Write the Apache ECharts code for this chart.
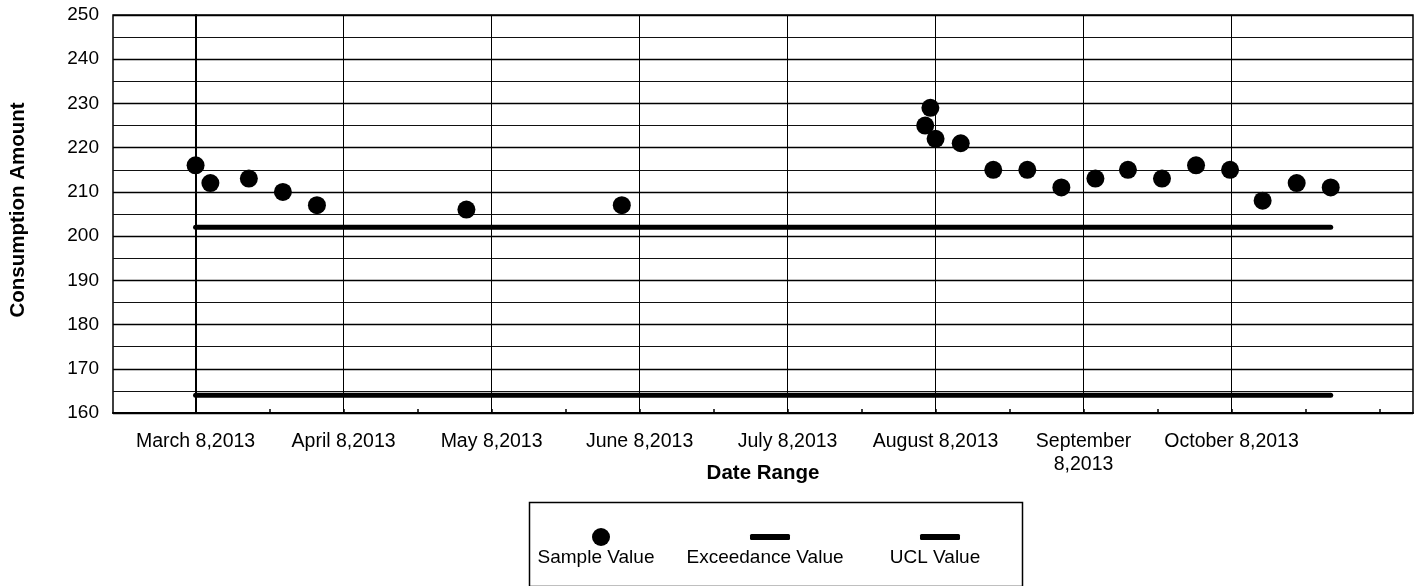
<!DOCTYPE html>
<html><head><meta charset="utf-8">
<script src="https://cdn.jsdelivr.net/npm/echarts@6/dist/echarts.min.js"></script>
<style>html,body{margin:0;padding:0;background:#fff}#c{width:1420px;height:586px}</style>
</head><body><div id="c"></div>
<script>
// x unit: months since March 8, 2013
const monthTicks = [0, 1, 2, 3, 4, 5, 6, 7];
const monthLabels = ['March 8,2013', 'April 8,2013', 'May 8,2013', 'June 8,2013', 'July 8,2013', 'August 8,2013', 'September\n8,2013', 'October 8,2013'];
const halfMonthTicks = [0, 0.5, 1, 1.5, 2, 2.5, 3, 3.5, 4, 4.5, 5, 5.5, 6, 6.5, 7, 7.5, 8];
const sampleMonths = [0.00, 0.10, 0.36, 0.59, 0.82, 1.83, 2.88, 4.93, 4.965, 5.00, 5.17, 5.39, 5.62, 5.85, 6.08, 6.30, 6.53, 6.76, 6.99, 7.21, 7.44, 7.67];
const sampleValues = [216, 212, 213, 210, 207, 206, 207, 225, 229, 222, 221, 215, 215, 211, 213, 215, 213, 216, 215, 208, 212, 211];
const exceedanceValues = [202, 202];
const uclValues = [164, 164];
const yTicks = { min: 160, max: 250, step: 10 };
const seriesNames = ['Sample Value', 'Exceedance Value', 'UCL Value'];

const FONT = "'Liberation Sans', Arial, sans-serif";
const lineMonths = [sampleMonths[0], sampleMonths[sampleMonths.length - 1]];
const chart = echarts.init(document.getElementById('c'), null, { renderer: 'canvas' });

const legendCenters = [596, 765, 935];
const option = {
  animation: false,
  backgroundColor: '#fff',
  grid: { left: 113, top: 15, right: 7, bottom: 173, show: true, borderColor: '#000', borderWidth: 1.5, containLabel: false },
  xAxis: [{
    type: 'value', min: -0.558, max: 8.226, gridIndex: 0, position: 'bottom',
    axisLine: { show: true, onZero: false, lineStyle: { color: '#000', width: 2 } },
    axisTick: { show: false, customValues: monthTicks },
    axisLabel: {
      customValues: monthTicks, margin: 17, fontSize: 19.5, color: '#000', fontFamily: FONT, lineHeight: 23,
      formatter: v => monthLabels[monthTicks.indexOf(Math.round(v))] || ''
    },
    splitLine: { show: true, lineStyle: { color: '#000', width: 1 } },
    name: 'Date Range', nameLocation: 'middle', nameGap: 50, nameMoveOverlap: false,
    nameTextStyle: { fontSize: 20.5, fontWeight: 'bold', color: '#000', fontFamily: FONT }
  }, {
    type: 'value', min: -0.558, max: 8.226, gridIndex: 0, position: 'bottom',
    axisLine: { show: false },
    axisTick: { show: true, inside: true, length: 4, customValues: halfMonthTicks, lineStyle: { color: '#000', width: 1.5 } },
    axisLabel: { show: false },
    splitLine: { show: false }
  }],
  yAxis: {
    type: 'value', min: yTicks.min, max: yTicks.max, interval: yTicks.step,
    axisLine: { show: true, lineStyle: { color: '#000', width: 2 } },
    axisTick: { show: false },
    axisLabel: { fontSize: 19, color: '#000', margin: 14, fontFamily: FONT },
    splitLine: { show: true, lineStyle: { color: '#000', width: 1.3 } },
    minorTick: { show: false, splitNumber: 2 },
    minorSplitLine: { show: true, lineStyle: { color: '#111', width: 1.2 } },
    name: 'Consumption Amount', nameLocation: 'middle', nameGap: 84, nameRotate: 90, nameMoveOverlap: false,
    nameTextStyle: { fontSize: 20.5, fontWeight: 'bold', color: '#000', fontFamily: FONT, padding: [0, 0, 0, 8] }
  },
  legend: seriesNames.map((n, i) => ({
    data: [n],
    icon: i === 0 ? 'circle' : 'roundRect',
    left: i === 0 ? legendCenters[i] - 9 : legendCenters[i] - 20,
    top: i === 0 ? 523 : 529,
    itemWidth: i === 0 ? 18 : 40,
    itemHeight: i === 0 ? 18 : 6,
    itemStyle: { color: '#000', borderWidth: 0 },
    formatter: () => '',
    selectedMode: false,
    textStyle: { fontSize: 1 }
  })),
  graphic: [
    { type: 'rect', left: 527, top: 500, shape: { width: 493, height: 84 }, style: { fill: 'none', stroke: '#000', lineWidth: 1.5 } },
    ...seriesNames.map((n, i) => ({
      type: 'text', x: legendCenters[i], y: 558,
      style: { text: n, fontSize: 19, fontFamily: FONT, fill: '#000', align: 'center', verticalAlign: 'middle' }
    }))
  ],
  series: [
    {
      name: seriesNames[1], type: 'line', symbol: 'none', xAxisIndex: 0, z: 2,
      data: lineMonths.map((m, i) => [m, exceedanceValues[i]]),
      lineStyle: { color: '#000', width: 5, cap: 'round' }, itemStyle: { color: '#000' }
    },
    {
      name: seriesNames[2], type: 'line', symbol: 'none', xAxisIndex: 0, z: 2,
      data: lineMonths.map((m, i) => [m, uclValues[i]]),
      lineStyle: { color: '#000', width: 5, cap: 'round' }, itemStyle: { color: '#000' }
    },
    {
      name: seriesNames[0], type: 'scatter', symbol: 'circle', symbolSize: 18, xAxisIndex: 0, z: 3,
      data: sampleMonths.map((m, i) => [m, sampleValues[i]]),
      itemStyle: { color: '#000', opacity: 1 }
    }
  ]
};
chart.setOption(option);
</script></body></html>
